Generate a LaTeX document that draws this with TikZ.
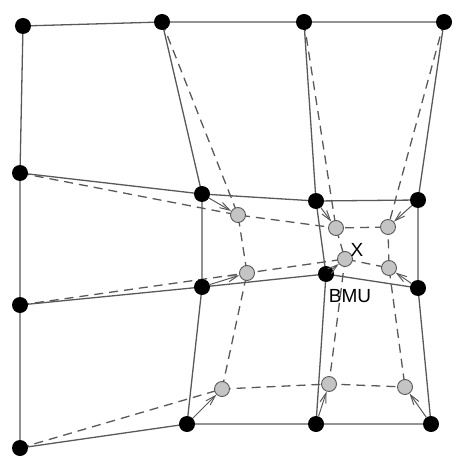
\documentclass[tikz,border=0pt]{standalone}
\usepackage{fontspec}
\setmainfont{Liberation Sans}
\usetikzlibrary{arrows.meta}
\definecolor{linegray}{HTML}{595959}
\definecolor{nodegray}{HTML}{C4C4C4}
\tikzset{
  oldnode/.style={circle,fill=black,inner sep=0pt,minimum size=16pt},
  newnode/.style={circle,fill=nodegray,draw=linegray,line width=0.9pt,inner sep=0pt,minimum size=15pt},
  solidline/.style={draw=linegray,line width=1.3pt},
  dashline/.style={draw=linegray,line width=1.3pt,dash pattern=on 9pt off 6pt},
  movearrow/.style={draw=linegray,line width=1pt,-{Straight Barb[length=10pt,width=6pt]}},
  lbl/.style={font=\fontsize{19}{20}\selectfont,inner sep=0pt}
}
\begin{document}
\begin{tikzpicture}[x=1pt,y=-1pt]
\useasboundingbox (0,0) rectangle (460,470);
% old (black) positions
\coordinate (a00) at (23,26);  \coordinate (a01) at (162,22); \coordinate (a02) at (304,22); \coordinate (a03) at (444,22);
\coordinate (a10) at (20,173); \coordinate (a11) at (202,194); \coordinate (a12) at (316,201); \coordinate (a13) at (418,200);
\coordinate (a20) at (20,305); \coordinate (a21) at (202,287); \coordinate (a22) at (326,274); \coordinate (a23) at (418,288);
\coordinate (a30) at (20,448); \coordinate (a31) at (187,424); \coordinate (a32) at (316,424); \coordinate (a33) at (431,424);
% new (gray) positions
\coordinate (b11) at (238,215); \coordinate (b12) at (336,228); \coordinate (b13) at (388,227);
\coordinate (b21) at (247,273); \coordinate (b22) at (345,259); \coordinate (b23) at (389,268);
\coordinate (b31) at (222,389); \coordinate (b32) at (329,384); \coordinate (b33) at (405,387);
% solid grid
\foreach \r in {0,1,2,3}{
  \draw[solidline] (a\r0) -- (a\r1) -- (a\r2) -- (a\r3);
  \draw[solidline] (a0\r) -- (a1\r) -- (a2\r) -- (a3\r);
}
% dashed grid
\draw[dashline] (a10) -- (b11) -- (b12) -- (b13);
\draw[dashline] (a20) -- (b21) -- (b22) -- (b23);
\draw[dashline] (a30) -- (b31) -- (b32) -- (b33);
\draw[dashline] (a01) -- (b11) -- (b21) -- (b31);
\draw[dashline] (a02) -- (b12) -- (b22) -- (b32);
\draw[dashline] (a03) -- (b13) -- (b23) -- (b33);
% nodes
\foreach \r in {0,1,2,3}{\foreach \c in {0,1,2,3}{\node[oldnode] (o\r\c) at (a\r\c) {};}}
\foreach \r in {1,2,3}{\foreach \c in {1,2,3}{\node[newnode] (n\r\c) at (b\r\c) {};}}
% arrows
\foreach \r in {1,2,3}{\foreach \c in {1,2,3}{\draw[movearrow] (o\r\c) -- (n\r\c);}}
% labels
\node[lbl] (x) at (357,250) {X};
\node[lbl] (bmu) at (350,296) {BMU};
\end{tikzpicture}
\end{document}
